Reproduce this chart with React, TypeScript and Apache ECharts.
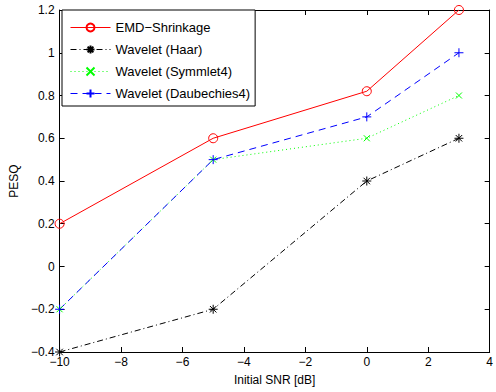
import React, { useEffect, useRef } from "react";
import * as echarts from "echarts";

const snr = [-10, -5, 0, 3];
const emd = [0.2, 0.6, 0.82, 1.2];
const haar = [-0.4, -0.2, 0.4, 0.6];
const sym4 = [-0.2, 0.5, 0.6, 0.8];
const db4 = [-0.2, 0.5, 0.7, 1.0];
const names = ["EMD\u2212Shrinkage", "Wavelet (Haar)", "Wavelet (Symmlet4)", "Wavelet (Daubechies4)"];

const FONT = "Liberation Sans";
const fmt = (v: number) => {
  const r = Math.round(v * 10) / 10;
  return String(r).replace("-", "\u2212");
};

export default function App() {
  const ref = useRef<HTMLDivElement>(null);
  useEffect(() => {
    const chart = echarts.init(ref.current!, undefined, { renderer: "svg" });
    const pair = (xs: number[], ys: number[]) => xs.map((x, i) => [x, ys[i]]);
    const star = "path://M0,-5L0,5M-5,0L5,0M-3.6,-3.6L3.6,3.6M-3.6,3.6L3.6,-3.6";
    const cross = "path://M-1,-1L1,1M-1,1L1,-1";
    const plus = "path://M0,-1L0,1M-1,0L1,0";
    const mk = (name: string, data: number[], color: string, type: any, symbol: string, size: number) => ({
      name,
      type: "line",
      data: pair(snr, data),
      symbol,
      symbolSize: size,
      showAllSymbol: true,
      clip: false,
      lineStyle: { color, width: 1, type },
      itemStyle: { color: symbol === "circle" ? "rgba(255,255,255,0)" : "none", borderColor: color, borderWidth: 1 },
      emphasis: { disabled: true },
    });
    const axisCommon = {
      axisLine: { show: true, onZero: false, lineStyle: { color: "#000", width: 1 } },
      axisTick: { show: true, inside: true, length: 5, lineStyle: { color: "#000" } },
      splitLine: { show: false },
    };
    chart.setOption({
      animation: false,
      backgroundColor: "#fff",
      textStyle: { fontFamily: FONT },
      grid: { left: 59, right: 2, top: 10, bottom: 40, show: false },
      legend: {
        orient: "vertical",
        left: 62,
        top: 10,
        data: names,
        backgroundColor: "#fff",
        borderColor: "#000",
        borderWidth: 1,
        borderRadius: 0,
        padding: [11, 5, 6, 8],
        itemGap: 9,
        itemWidth: 40,
        itemHeight: 10,
        lineStyle: { width: 1 },
        textStyle: { fontFamily: FONT, fontSize: 13, color: "#000" },
      },
      xAxis: [
        {
          type: "value",
          min: -10,
          max: 4,
          interval: 2,
          position: "bottom",
          ...axisCommon,
          axisLabel: { color: "#000", fontSize: 12, fontFamily: FONT, margin: 4, formatter: fmt },
          name: "Initial SNR [dB]",
          nameLocation: "middle",
          nameGap: 22,
          nameTextStyle: { color: "#000", fontSize: 12, fontFamily: FONT },
        },
        {
          type: "value",
          min: -10,
          max: 4,
          interval: 2,
          position: "top",
          ...axisCommon,
          axisLabel: { show: false },
        },
      ],
      yAxis: [
        {
          type: "value",
          min: -0.4,
          max: 1.2,
          interval: 0.2,
          position: "left",
          ...axisCommon,
          axisLabel: { color: "#000", fontSize: 12, fontFamily: FONT, margin: 5, formatter: fmt },
          name: "PESQ",
          nameLocation: "middle",
          nameGap: 35,
          nameRotate: 90,
          nameTextStyle: { color: "#000", fontSize: 12, fontFamily: FONT },
        },
        {
          type: "value",
          min: -0.4,
          max: 1.2,
          interval: 0.2,
          position: "right",
          ...axisCommon,
          axisLabel: { show: false },
        },
      ],
      series: [
        mk(names[0], emd, "#ff0000", "solid", "circle", 9),
        mk(names[1], haar, "#000000", [6, 3, 1, 3], star, 9),
        mk(names[2], sym4, "#00ff00", [1, 3], cross, 6),
        mk(names[3], db4, "#0000ff", [7, 5], plus, 9),
      ],
    });
    return () => chart.dispose();
  }, []);
  return (
    <div
      ref={ref}
      style={{ position: "fixed", left: 0, top: 0, width: 496, height: 392 }}
    />
  );
}
